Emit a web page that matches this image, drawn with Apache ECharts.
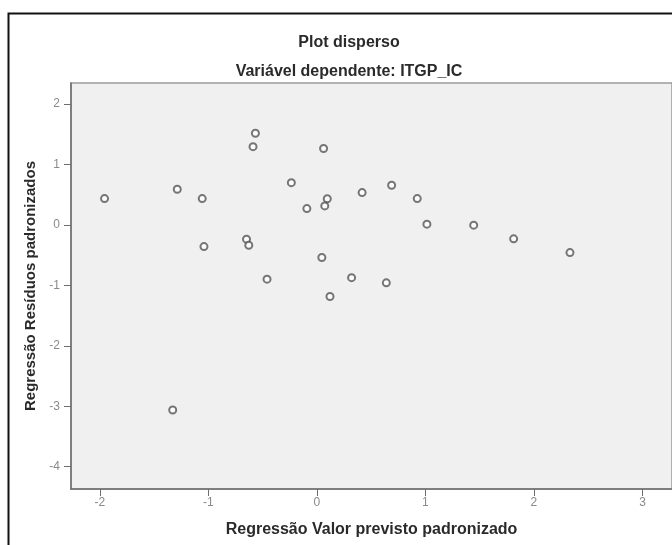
<!DOCTYPE html>
<html>
<head>
<meta charset="utf-8">
<style>
  html, body { margin: 0; padding: 0; background: #fff; }
  #chart { width: 672px; height: 545px; }
</style>
<script src="https://cdn.jsdelivr.net/npm/echarts@6/dist/echarts.min.js"></script>
</head>
<body>
<div id="chart"></div>
<script>
// valores (previsto padronizado vs resíduo padronizado)
const previsto = [
  -1.956, -1.286, -1.056, -1.040, -0.648, -0.627, -0.566, -0.588, -0.459,
  -0.235, -0.092, 0.062, 0.096, 0.073, 0.046, 0.121, 0.320, 0.417,
  0.689, 0.640, 0.925, 1.014, 1.445, 1.813, 2.332, -1.328
];
const residuo = [
  0.435, 0.590, 0.435, -0.359, -0.236, -0.336, 1.516, 1.294, -0.898,
  0.699, 0.269, 1.264, 0.433, 0.314, -0.540, -1.185, -0.873, 0.534,
  0.656, -0.959, 0.435, 0.012, -0.005, -0.231, -0.458, -3.063
];
const xTicks = [-2, -1, 0, 1, 2, 3];
const yTicks = [-4, -3, -2, -1, 0, 1, 2];

const chart = echarts.init(document.getElementById('chart'), null, { renderer: 'canvas' });

const font = 'Liberation Sans, Arial, sans-serif';
const tickLabel = { color: '#8a8a8a', fontSize: 12, fontFamily: font };

chart.setOption({
  animation: false,
  graphic: [{
    type: 'rect',
    shape: { x: 8.5, y: 13.5, width: 720, height: 600 },
    style: { fill: null, stroke: '#111', lineWidth: 2 },
    z: -1
  }],
  title: [
    {
      text: 'Plot disperso',
      left: 344, top: 30, textAlign: 'center',
      textStyle: { fontSize: 16, fontWeight: 'bold', color: '#2a2a2a', fontFamily: font }
    },
    {
      text: 'Variável dependente: ITGP_IC',
      left: 344, top: 59, textAlign: 'center',
      textStyle: { fontSize: 16, fontWeight: 'bold', color: '#2a2a2a', fontFamily: font }
    }
  ],
  grid: {
    left: 71, top: 83, right: -2, bottom: 56,
    show: true,
    backgroundColor: '#f0f0f0',
    borderColor: '#9a9a9a',
    borderWidth: 1.5
  },
  xAxis: {
    type: 'value',
    min: -2.265, max: 3.272,
    name: 'Regressão Valor previsto padronizado',
    nameLocation: 'middle',
    nameGap: 33,
    nameTextStyle: { fontSize: 16, fontWeight: 'bold', color: '#2a2a2a', fontFamily: font },
    axisLine: { onZero: false, lineStyle: { color: '#6e6e6e', width: 1.5 } },
    axisTick: { length: 7, lineStyle: { color: '#6e6e6e' }, customValues: xTicks },
    axisLabel: Object.assign({ margin: 8, customValues: xTicks }, tickLabel),
    splitLine: { show: false }
  },
  yAxis: {
    type: 'value',
    min: -4.369, max: 2.347,
    name: 'Regressão Resíduos padronizados',
    nameLocation: 'middle',
    nameGap: 31,
    nameTextStyle: { fontSize: 15, fontWeight: 'bold', color: '#2a2a2a', fontFamily: font },
    axisLine: { onZero: false, lineStyle: { color: '#6e6e6e', width: 1.5 } },
    axisTick: { length: 7, lineStyle: { color: '#6e6e6e' }, customValues: yTicks },
    axisLabel: Object.assign({ margin: 11, customValues: yTicks }, tickLabel),
    splitLine: { show: false }
  },
  series: [{
    type: 'scatter',
    data: previsto.map((x, i) => [x, residuo[i]]),
    symbol: 'emptyCircle',
    symbolSize: 7,
    itemStyle: { color: '#555', borderColor: '#555', borderWidth: 1.6 }
  }]
});
</script>
</body>
</html>
